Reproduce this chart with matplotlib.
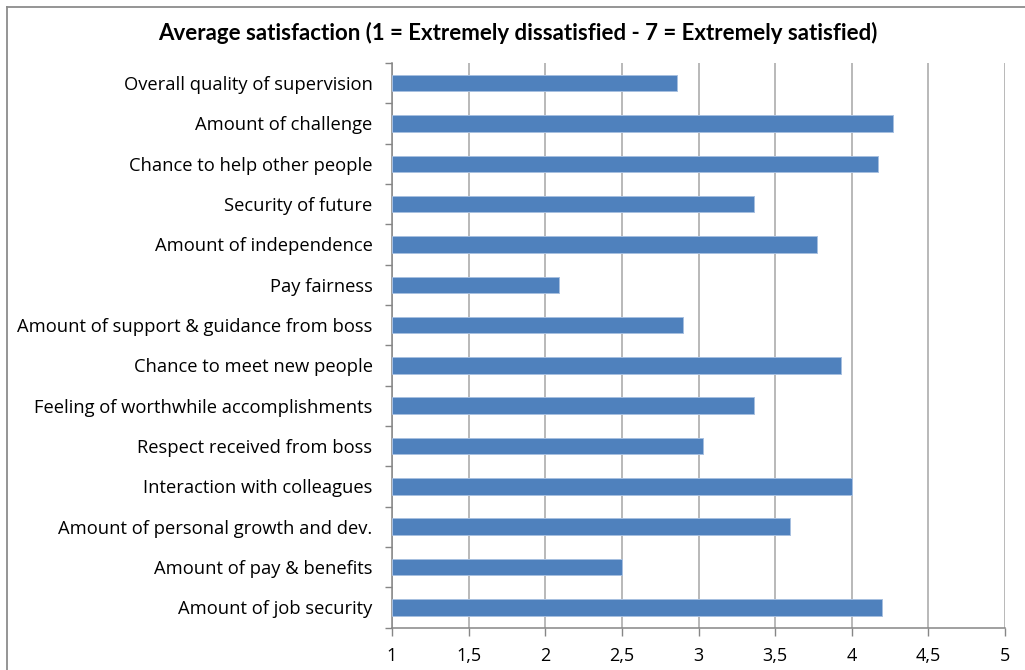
import matplotlib
matplotlib.use("Agg")
import matplotlib.pyplot as plt
from matplotlib import font_manager
from matplotlib.lines import Line2D

categories = [
    "Overall quality of supervision",
    "Amount of challenge",
    "Chance to help other people",
    "Security of future",
    "Amount of independence",
    "Pay fairness",
    "Amount of support & guidance from boss",
    "Chance to meet new people",
    "Feeling of worthwhile accomplishments",
    "Respect received from boss",
    "Interaction with colleagues",
    "Amount of personal growth and dev.",
    "Amount of pay & benefits",
    "Amount of job security",
]
scores = [2.86, 4.27, 4.17, 3.36, 3.77, 2.09, 2.90, 3.93, 3.36, 3.03, 4.00, 3.60, 2.50, 4.20]
xticks = [1, 1.5, 2, 2.5, 3, 3.5, 4, 4.5, 5]
xtick_labels = ["1", "1,5", "2", "2,5", "3", "3,5", "4", "4,5", "5"]
title = "Average satisfaction (1 = Extremely dissatisfied - 7 = Extremely satisfied)"


def pick_font(names):
    available = {f.name for f in font_manager.fontManager.ttflist}
    for n in names:
        if n in available:
            return n
    return "DejaVu Sans"


label_font = pick_font(["Open Sans", "Noto Sans", "DejaVu Sans"])
title_font = pick_font(["Lato", "Open Sans", "DejaVu Sans"])

fig = plt.figure(figsize=(10.25, 6.7), dpi=100)
fig.patch.set_facecolor("white")

# outer chart frame (top and left edges)
fig.add_artist(Line2D([7 / 1025, 7 / 1025], [0, 1 - 7 / 670], transform=fig.transFigure,
                      color="#8c8c8c", lw=1.3))
fig.add_artist(Line2D([7 / 1025, 1], [1 - 7 / 670, 1 - 7 / 670], transform=fig.transFigure,
                      color="#8c8c8c", lw=1.3))

ax = fig.add_axes([392 / 1025, 1 - 627.5 / 670, (1005 - 392) / 1025, (627.5 - 63) / 670])

n = len(categories)
ypos = list(range(n))
ax.barh(ypos, [s - 1 for s in scores], left=1, height=0.41, color="#4f81bd",
        edgecolor="#a7bfe0", linewidth=0.7, zorder=3)

ax.set_xlim(1, 5)
ax.set_ylim(n - 0.5, -0.5)

ax.set_xticks(xticks)
ax.set_xticklabels(xtick_labels, fontfamily=label_font, fontsize=13)
ax.xaxis.grid(True, color="#a6a6a6", linewidth=1.1, zorder=0)

# major y ticks sit between categories, labels on minor ticks at bar centres
ax.set_yticks([i - 0.5 for i in range(n + 1)])
ax.set_yticklabels([])
ax.set_yticks(ypos, minor=True)
ax.set_yticklabels(categories, minor=True, fontfamily=label_font, fontsize=13.2)
ax.tick_params(axis="y", which="minor", length=0, pad=14)
ax.tick_params(axis="y", which="major", length=5, color="#868686", width=1)
ax.tick_params(axis="x", length=6, color="#868686", width=1, pad=8)

for side in ("top", "right"):
    ax.spines[side].set_visible(False)
for side in ("left", "bottom"):
    ax.spines[side].set_color("#868686")
    ax.spines[side].set_linewidth(1.1)

fig.text(518 / 1025, 1 - 33 / 670, title, ha="center", va="center",
         fontfamily=title_font, fontweight="bold", fontsize=16)

fig.savefig("out.png", dpi=100)
